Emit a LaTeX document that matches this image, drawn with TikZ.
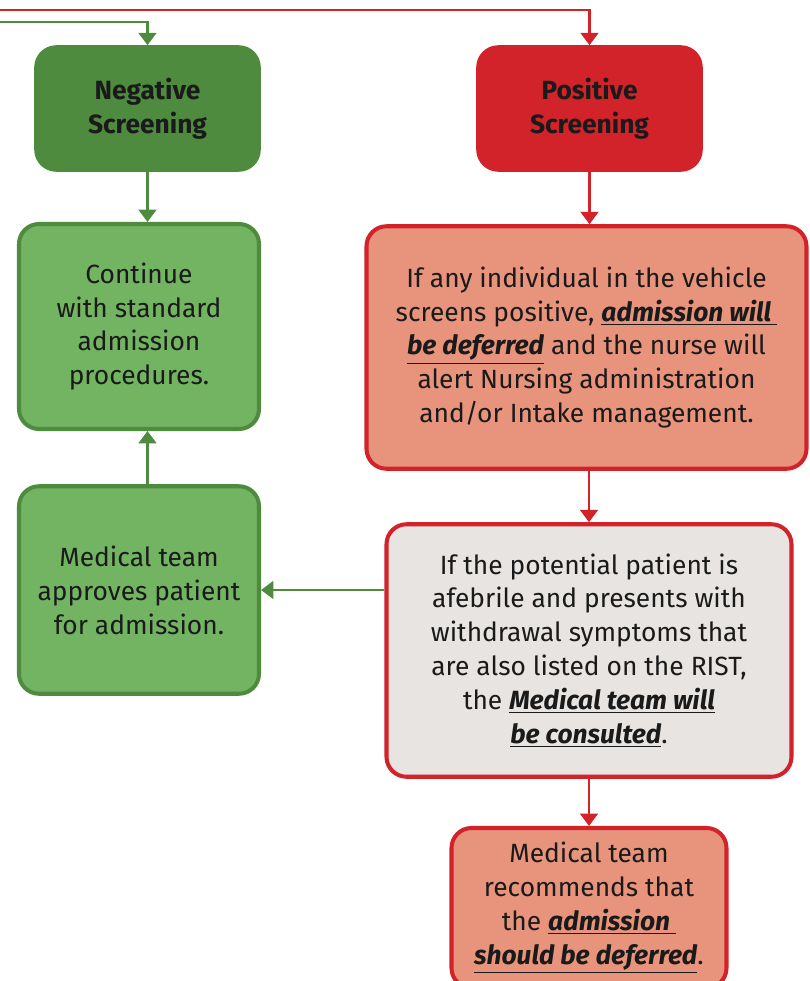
\documentclass[tikz,border=0pt]{standalone}
\usepackage{fontspec}
\setmainfont{Fira Sans}
\usepackage{tikz}
\usetikzlibrary{arrows.meta}

\definecolor{darkgreen}{HTML}{4E8B3F}
\definecolor{lightgreen}{HTML}{72B462}
\definecolor{screenred}{HTML}{D2232A}
\definecolor{salmon}{HTML}{E8937B}
\definecolor{boxgray}{HTML}{E7E4E1}
\definecolor{inktext}{HTML}{1A1A1A}

\newcommand{\keyterm}[1]{\underline{\textbf{\textit{#1}}}}

\begin{document}
\begin{tikzpicture}[
    box/.style={rounded corners=0.4cm, align=center, text=inktext, line width=2.3pt,
        font=\fontsize{15}{19.3}\selectfont, inner sep=0pt},
    greenline/.style={draw=darkgreen, line width=1.5pt, -{Triangle[length=7pt,width=10pt]}},
    redline/.style={draw=screenred, line width=1.5pt, -{Triangle[length=7pt,width=10pt]}}]
        \useasboundingbox (0,0) rectangle (16.2,-19.62);
        \node[box, fill=darkgreen, draw=darkgreen, minimum width=4.45cm, minimum height=2.45cm] (neg) at (2.95,-2.17) {\textbf{Negative}\\\textbf{Screening}};
        \node[box, fill=screenred, draw=screenred, minimum width=4.45cm, minimum height=2.45cm] (pos) at (11.79,-2.17) {\textbf{Positive}\\\textbf{Screening}};
        \node[box, fill=lightgreen, draw=darkgreen, minimum width=4.8cm, minimum height=4.1cm] (cont) at (2.78,-6.53) {Continue\\with standard\\admission\\procedures.};
        \node[box, fill=lightgreen, draw=darkgreen, minimum width=4.8cm, minimum height=4.15cm] (appr) at (2.78,-11.8) {Medical team\\approves patient\\for admission.};
        \node[box, fill=salmon, draw=screenred, minimum width=8.8cm, minimum height=4.85cm] (defer) at (11.73,-6.95) {If any individual in the vehicle\\screens positive, \keyterm{admission will\ }\\\keyterm{be deferred} and the nurse will\\alert Nursing administration\\and/or Intake management.};
        \node[box, fill=boxgray, draw=screenred, minimum width=8.1cm, minimum height=5.05cm] (consult) at (11.78,-13.01) {If the potential patient is\\afebrile and presents with\\withdrawal symptoms that\\are also listed on the RIST,\\the \keyterm{Medical team will}\\\keyterm{be consulted}.};
        \node[box, fill=salmon, draw=screenred, minimum width=5.5cm, minimum height=3.2cm] (recommend) at (11.78,-18.16) {Medical team\\recommends that\\the \keyterm{admission\ }\\\keyterm{should be deferred}.};
        \coordinate (redin) at (-0.1,-0.2);
        \coordinate (greenin) at (-0.1,-0.44);
        \draw[redline] (redin) -| (pos.north);
        \draw[greenline] (greenin) -| (neg.north);
        \draw[greenline] (neg.south) -- (neg.south |- cont.north);
        \draw[greenline] (appr.north -| neg.south) -- (cont.south -| neg.south);
        \draw[redline] (pos.south) -- (pos.south |- defer.north);
        \draw[redline] (defer.south -| consult.north) -- (consult.north);
        \draw[greenline] (consult.west |- appr.east) -- (appr.east);
        \draw[redline] (consult.south) -- (recommend.north);
    \end{tikzpicture}
\end{document}
